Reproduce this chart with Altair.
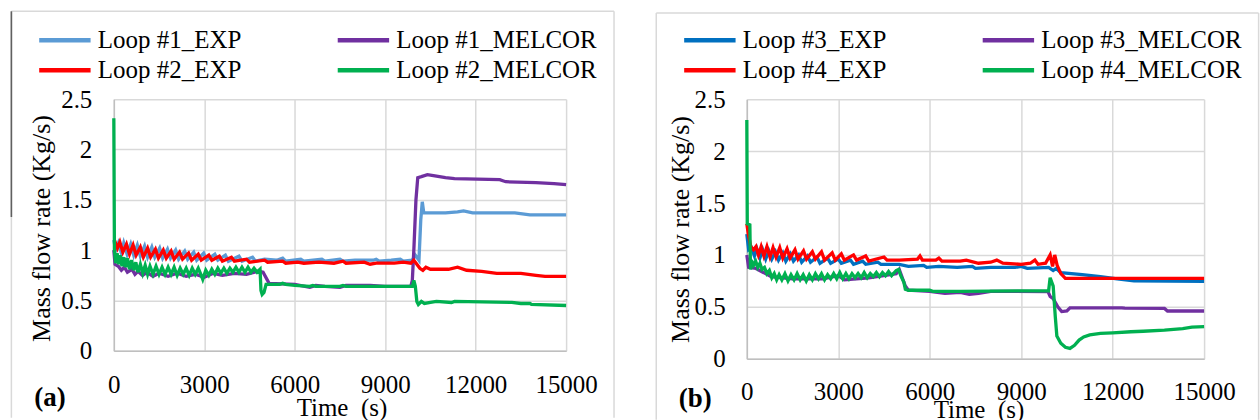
import altair as alt
import pandas as pd

FONT = "'Liberation Serif', 'DejaVu Serif', 'Noto Serif', serif"

# ---------------- Panel (a) data ----------------
# legend order is column-major: column 1 = EXP series, column 2 = MELCOR series
a_names = ["Loop #1_EXP", "Loop #2_EXP", "Loop #1_MELCOR", "Loop #2_MELCOR"]
a_colors = ["#5B9BD5", "#FF0000", "#7030A0", "#00B050"]

a1_exp_t = [0, 60, 150, 250, 330, 440, 560, 660, 780, 880, 1020, 1120, 1260, 1360, 1520, 1620, 1780, 1880,
            2050, 2150, 2350, 2450, 2650, 2750, 2980, 3080, 3350, 3450, 3700, 3800, 4150, 4250, 4600, 4700,
            5000, 5400, 5600, 5700, 6200, 6300, 6900, 7000, 7500, 7600, 8000, 8600, 8700, 8800, 9200, 9500,
            9600, 9900, 10000, 10120, 10180, 10230, 10280, 11000, 11400, 11600, 11900, 13300, 13800, 15000]
a1_exp_v = [1.10, 1.00, 1.07, 0.97, 1.07, 0.96, 1.06, 0.95, 1.05, 0.94, 1.04, 0.93, 1.03, 0.93, 1.02, 0.92, 1.01, 0.92,
            1.00, 0.91, 0.99, 0.91, 0.98, 0.90, 0.97, 0.90, 0.96, 0.90, 0.95, 0.89, 0.94, 0.89, 0.93, 0.89,
            0.91, 0.90, 0.92, 0.89, 0.91, 0.89, 0.91, 0.89, 0.91, 0.89, 0.90, 0.90, 0.91, 0.89, 0.90, 0.91,
            0.89, 0.90, 0.95, 0.90, 1.30, 1.48, 1.37, 1.37, 1.38, 1.39, 1.37, 1.37, 1.35, 1.35]

a1_mel_t = [0, 40, 150, 250, 350, 450, 600, 700, 800, 950, 1100, 1300, 1500, 1800, 2100, 2400, 2700, 3000,
            3300, 3600, 4000, 4400, 4800, 4950, 5150, 6000, 6500, 6700, 7000, 7500, 7700, 8500, 9000, 9850,
            9900, 9950, 10020, 10080, 10200, 10400, 10600, 11000, 11300, 12800, 12900, 13000, 14000, 14600, 15000]
a1_mel_v = [1.00, 0.86, 0.84, 0.80, 0.83, 0.78, 0.81, 0.76, 0.79, 0.75, 0.78, 0.74, 0.77, 0.74, 0.77, 0.74, 0.76, 0.73,
            0.77, 0.75, 0.77, 0.76, 0.79, 0.78, 0.67, 0.66, 0.63, 0.65, 0.64, 0.63, 0.65, 0.65, 0.64, 0.64,
            0.70, 1.00, 1.50, 1.72, 1.73, 1.75, 1.74, 1.72, 1.71, 1.70, 1.69, 1.68, 1.67, 1.66, 1.65]

a2_exp_t = [20, 120, 200, 300, 420, 520, 640, 740, 880, 980, 1120, 1220, 1380, 1480, 1640, 1740, 1900, 2000,
            2180, 2280, 2480, 2580, 2800, 2900, 3150, 3250, 3500, 3600, 3900, 4000, 4400, 4500, 5000, 5100,
            5600, 5700, 6100, 6300, 6800, 7300, 7600, 7700, 8300, 8500, 8700, 9300, 9600, 9850, 9950, 10050,
            10150, 10250, 10350, 10500, 10800, 11100, 11400, 11700, 12200, 12700, 13500, 14000, 14300, 15000]
a2_exp_v = [1.10, 1.02, 1.08, 0.98, 1.06, 0.96, 1.05, 0.95, 1.03, 0.93, 1.02, 0.93, 1.01, 0.92, 1.00, 0.92, 0.99, 0.91,
            0.98, 0.91, 0.97, 0.90, 0.96, 0.90, 0.95, 0.90, 0.94, 0.89, 0.93, 0.89, 0.91, 0.88, 0.90, 0.88,
            0.89, 0.87, 0.88, 0.87, 0.88, 0.87, 0.89, 0.87, 0.88, 0.86, 0.87, 0.87, 0.88, 0.87, 0.90, 0.86,
            0.82, 0.80, 0.83, 0.81, 0.81, 0.81, 0.83, 0.80, 0.79, 0.77, 0.77, 0.75, 0.74, 0.74]

a2_mel_t = [0, 20, 60, 110, 160, 210, 270, 330, 390, 450, 520, 590, 660, 730, 800, 880, 960, 1040, 1120, 1200,
            1300, 1400, 1500, 1600, 1700, 1800, 1900, 2000, 2100, 2200, 2300, 2400, 2500, 2600, 2700, 2800,
            2900, 2950, 3050, 3150, 3250, 3350, 3450, 3550, 3650, 3750, 3850, 3950, 4050, 4150, 4250, 4350,
            4450, 4550, 4650, 4750, 4850, 4880, 4920, 4980, 5050, 5500, 5600, 5700, 6000, 6500, 6600, 6700,
            7500, 7600, 7700, 9900, 9950, 10000, 10050, 10100, 10200, 10300, 10500, 10700, 11200, 11300,
            13200, 13500, 13800, 13850, 15000]
a2_mel_v = [2.31, 1.00, 0.87, 0.97, 0.86, 0.95, 0.84, 0.93, 0.83, 0.92, 0.81, 0.90, 0.80, 0.88, 0.78, 0.86, 0.77, 0.85, 0.76, 0.84,
            0.76, 0.84, 0.76, 0.83, 0.76, 0.83, 0.76, 0.83, 0.75, 0.82, 0.76, 0.82, 0.75, 0.82, 0.76, 0.82,
            0.75, 0.71, 0.80, 0.75, 0.81, 0.76, 0.82, 0.77, 0.82, 0.77, 0.82, 0.78, 0.83, 0.78, 0.83, 0.78,
            0.83, 0.78, 0.82, 0.78, 0.81, 0.60, 0.56, 0.58, 0.66, 0.66, 0.67, 0.66, 0.65, 0.64, 0.65, 0.64,
            0.64, 0.65, 0.64, 0.64, 0.70, 0.64, 0.49, 0.46, 0.49, 0.47, 0.48, 0.49, 0.48, 0.49,
            0.48, 0.47, 0.47, 0.46, 0.45]

# ---------------- Panel (b) data ----------------
b_names = ["Loop #3_EXP", "Loop #4_EXP", "Loop #3_MELCOR", "Loop #4_MELCOR"]
b_colors = ["#0070C0", "#FF0000", "#7030A0", "#00B050"]

b3_exp_t = [0, 60, 150, 250, 330, 430, 520, 620, 720, 820, 940, 1040, 1180, 1280, 1430, 1530, 1700, 1800,
            1990, 2090, 2300, 2400, 2650, 2750, 3000, 3100, 3400, 3500, 3800, 3900, 4300, 4400, 5000, 5300,
            5800, 5900, 6300, 6900, 7400, 7500, 8000, 8800, 9000, 9200, 9900, 10050, 10150, 10300, 11000,
            11600, 12150, 12700, 15000]
b3_exp_v = [1.20, 1.05, 1.07, 0.99, 1.06, 0.97, 1.05, 0.96, 1.04, 0.96, 1.03, 0.95, 1.02, 0.94, 1.01, 0.94, 1.00, 0.93,
            0.99, 0.93, 0.98, 0.92, 0.97, 0.92, 0.96, 0.92, 0.95, 0.91, 0.94, 0.91, 0.93, 0.91, 0.91, 0.89,
            0.90, 0.88, 0.89, 0.88, 0.89, 0.87, 0.88, 0.88, 0.89, 0.87, 0.88, 0.85, 0.87, 0.83, 0.81,
            0.79, 0.77, 0.75, 0.745]

b3_mel_t = [0, 60, 300, 800, 1500, 2500, 3000, 3200, 4000, 4900, 5000, 5200, 5300, 6000, 6500, 7000, 7300,
            7600, 8000, 9880, 9950, 10050, 10200, 10330, 10500, 10600, 12300, 12400, 13700, 13800, 15000]
b3_mel_v = [1.00, 0.88, 0.87, 0.79, 0.77, 0.77, 0.80, 0.76, 0.78, 0.82, 0.86, 0.70, 0.66, 0.65, 0.63, 0.64, 0.62,
            0.63, 0.65, 0.647, 0.60, 0.58, 0.50, 0.455, 0.46, 0.49, 0.49, 0.487, 0.485, 0.46, 0.46]

b4_exp_t = [0, 50, 130, 220, 300, 380, 470, 560, 660, 760, 860, 960, 1080, 1180, 1320, 1420, 1580, 1680, 1860, 1960,
            2150, 2250, 2450, 2550, 2800, 2900, 3100, 3200, 3500, 3600, 3900, 4000, 4500, 4600, 5000, 5600,
            5680, 5760, 6200, 6300, 6400, 7000, 7200, 7600, 8000, 8200, 8400, 9000, 9300, 9450, 9550, 9800,
            9950, 10030, 10100, 10180, 10300, 10450, 15000]
b4_exp_v = [1.30, 1.20, 1.08, 1.05, 1.08, 1.00, 1.08, 0.99, 1.08, 0.98, 1.07, 0.98, 1.07, 0.97, 1.06, 0.97, 1.05, 0.96, 1.04, 0.96,
            1.03, 0.96, 1.03, 0.95, 1.02, 0.95, 1.01, 0.95, 1.00, 0.95, 0.99, 0.94, 0.98, 0.95, 0.95, 0.96,
            0.99, 0.95, 0.95, 0.97, 0.94, 0.94, 0.95, 0.92, 0.93, 0.95, 0.92, 0.91, 0.92, 0.95, 0.91, 0.92,
            1.00, 0.89, 1.00, 0.90, 0.82, 0.775, 0.775]

b4_mel_t = [0, 15, 100, 120, 150, 220, 290, 360, 430, 500, 580, 660, 740, 820, 900, 980, 1060, 1150, 1250, 1350,
            1450, 1550, 1650, 1750, 1850, 1950, 2050, 2150, 2250, 2350, 2450, 2550, 2650, 2750, 2850, 2950,
            3050, 3150, 3250, 3350, 3450, 3550, 3650, 3750, 3850, 3950, 4050, 4150, 4250, 4350, 4450, 4550,
            4650, 4750, 4900, 4980, 5050, 5150, 5200, 5300, 6000, 6100, 7000, 9900, 9950, 10050, 10120, 10170,
            10300, 10450, 10600, 10750, 10900, 11050, 11250, 11600, 12000, 12600, 13000, 13700, 14300, 14600, 15000]
b4_mel_v = [2.30, 1.30, 1.29, 0.86, 0.95, 0.90, 0.94, 0.88, 0.92, 0.86, 0.88, 0.82, 0.85, 0.78, 0.82, 0.76, 0.81, 0.76, 0.82, 0.75,
            0.81, 0.76, 0.82, 0.76, 0.81, 0.75, 0.81, 0.76, 0.82, 0.77, 0.82, 0.76, 0.81, 0.77, 0.82, 0.77,
            0.83, 0.77, 0.82, 0.77, 0.82, 0.78, 0.82, 0.78, 0.83, 0.78, 0.82, 0.79, 0.83, 0.79, 0.83, 0.80,
            0.84, 0.80, 0.85, 0.86, 0.80, 0.74, 0.67, 0.66, 0.66, 0.65, 0.65, 0.655, 0.78, 0.70, 0.40, 0.22,
            0.15, 0.11, 0.10, 0.13, 0.18, 0.21, 0.23, 0.245, 0.25, 0.26, 0.265, 0.275, 0.29, 0.305, 0.31]

x_ticks = [0, 3000, 6000, 9000, 12000, 15000]
y_ticks = [0, 0.5, 1, 1.5, 2, 2.5]


def long_df(series):
    rows = []
    for name, ts, vs in series:
        for t, v in zip(ts, vs):
            rows.append({"series": name, "t": t, "v": v})
    return pd.DataFrame(rows)


def panel(df, names, colors, draw_order, W, H, geo):
    x = alt.X("t:Q", scale=alt.Scale(domain=[0, 15000], nice=False, zero=False),
              axis=alt.Axis(values=x_ticks, format="d", title="Time\u00a0 (s)",
                            titleFont=FONT, titleFontSize=25, titleFontWeight="normal", titleColor="black",
                            titleX=geo["xtx"], titleY=geo["xty"], titleBaseline="alphabetic", titleAlign="center",
                            labelFont=FONT, labelFontSize=25, labelColor="black", labelPadding=geo["xlp"],
                            labelFlush=False, labelOverlap=False, ticks=False, tickSize=0,
                            domainColor="#bfbfbf", domainWidth=1.5, gridColor="#d9d9d9", gridWidth=1.5))
    y = alt.Y("v:Q", scale=alt.Scale(domain=[0, 2.5], nice=False),
              axis=alt.Axis(values=y_ticks, format="~g", title="Mass flow rate (Kg/s)",
                            titleFont=FONT, titleFontSize=26, titleFontWeight="normal", titleColor="black",
                            titleX=geo["ytx"], titleY=geo["yty"], titleAngle=270, titleBaseline="middle",
                            titleAlign="center",
                            labelFont=FONT, labelFontSize=25, labelColor="black", labelPadding=geo["ylp"],
                            labelOverlap=False, ticks=False, tickSize=0,
                            domainColor="#bfbfbf", domainWidth=1.5, gridColor="#d9d9d9", gridWidth=1.5))
    legend = alt.Legend(orient="none", legendX=geo["lx"], legendY=geo["ly"], columns=2,
                        columnPadding=geo["cp"], rowPadding=geo["rp"], symbolType="stroke",
                        symbolSize=2650, symbolStrokeWidth=4.5, labelFont=FONT, labelFontSize=25,
                        labelColor="black", labelOffset=5, labelLimit=400, clipHeight=26, title=None)
    color = alt.Color("series:N", scale=alt.Scale(domain=names, range=colors), legend=legend)

    layers = []
    for n in draw_order:
        layers.append(alt.Chart(df).transform_filter(alt.datum.series == n)
                      .mark_line(strokeWidth=3.3, clip=False)
                      .encode(x=x, y=y, color=color))

    one = pd.DataFrame({"k": [0]})
    fl, ft, fr, fb = geo["frame"]
    frame = [
        alt.Chart(one).mark_rule(color="#d9d9d9", strokeWidth=1.5).encode(
            x=alt.value(fl), x2=alt.value(fr), y=alt.value(ft), y2=alt.value(ft)),
        alt.Chart(one).mark_rule(color="#d9d9d9", strokeWidth=1.5).encode(
            x=alt.value(fl), x2=alt.value(fl), y=alt.value(ft), y2=alt.value(fb)),
        alt.Chart(one).mark_rule(color="#d9d9d9", strokeWidth=1.5).encode(
            x=alt.value(fr), x2=alt.value(fr), y=alt.value(ft), y2=alt.value(fb)),
    ]
    if geo.get("dark"):
        d0, d1 = geo["dark"]
        frame.append(alt.Chart(one).mark_rule(color="#606060", strokeWidth=1.6).encode(
            x=alt.value(fl), x2=alt.value(fl), y=alt.value(d0), y2=alt.value(d1)))
    tag = alt.Chart(one).mark_text(font=FONT, fontSize=27, fontWeight="bold", color="black",
                                   align="center", baseline="middle").encode(
        x=alt.value(geo["tagx"]), y=alt.value(geo["tagy"]), text=alt.value(geo["tag"]))

    return alt.layer(*frame, *layers, tag).properties(width=W, height=H)


df_a = long_df([("Loop #1_EXP", a1_exp_t, a1_exp_v), ("Loop #1_MELCOR", a1_mel_t, a1_mel_v),
                ("Loop #2_EXP", a2_exp_t, a2_exp_v), ("Loop #2_MELCOR", a2_mel_t, a2_mel_v)])
df_b = long_df([("Loop #3_EXP", b3_exp_t, b3_exp_v), ("Loop #3_MELCOR", b3_mel_t, b3_mel_v),
                ("Loop #4_EXP", b4_exp_t, b4_exp_v), ("Loop #4_MELCOR", b4_mel_t, b4_mel_v)])

order_a = ["Loop #1_EXP", "Loop #1_MELCOR", "Loop #2_EXP", "Loop #2_MELCOR"]
order_b = ["Loop #3_EXP", "Loop #3_MELCOR", "Loop #4_EXP", "Loop #4_MELCOR"]

geo_a = dict(xtx=228, xty=65, xlp=22, ytx=-72, yty=129, ylp=22, lx=-77, ly=-72, cp=94, rp=4,
             frame=(-102.6, -88, 501, 319), dark=(-88, 118), tagx=-64, tagy=299, tag="(a)")
geo_b = dict(xtx=232, xty=59, xlp=21, ytx=-66.7, yty=130, ylp=21.7, lx=-65, ly=-72, cp=94, rp=4,
             frame=(-90.7, -86.3, 512.6, 321), tagx=-51.7, tagy=300.7, tag="(b)")

pa = panel(df_a, a_names, a_colors, order_a, 453, 252, geo_a)
pb = panel(df_b, b_names, b_colors, order_b, 458, 260, geo_b)

chart = (alt.hconcat(pa, pb, spacing=40)
         .resolve_scale(color="independent")
         .properties(padding={"left": 10, "top": 10, "right": 0, "bottom": 0}, background="white")
         .configure_view(stroke=None))

chart.save("out.html", embed_options={"renderer": "svg", "actions": False})
